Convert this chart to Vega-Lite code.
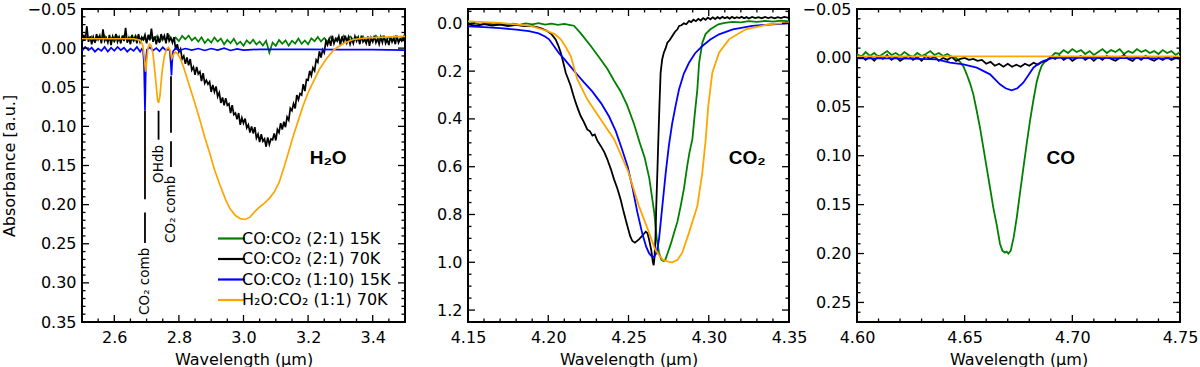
{
"$schema": "https://vega.github.io/schema/vega-lite/v6.json",
"padding": {"left": 0, "right": 2, "top": 0, "bottom": 0},
"spacing": 25,
"config": {
  "font": "DejaVu Sans",
  "view": {"stroke": "black", "strokeWidth": 2},
  "axis": {"domain": false, "grid": false, "ticks": false, "tickSize": 0, "labelFont": "DejaVu Sans", "labelFontSize": 16, "labelColor": "black", "titleFont": "DejaVu Sans", "titleFontSize": 16, "titleFontWeight": "normal", "titleColor": "black", "labelFlush": false}
},
"resolve": {"scale": {"color": "independent"}},
"datasets": {
"xt1": [{"t":2.6,"k":"M"},{"t":2.8,"k":"M"},{"t":3.0,"k":"M"},{"t":3.2,"k":"M"},{"t":3.4,"k":"M"},{"t":2.55,"k":"m"},{"t":2.65,"k":"m"},{"t":2.7,"k":"m"},{"t":2.75,"k":"m"},{"t":2.85,"k":"m"},{"t":2.9,"k":"m"},{"t":2.95,"k":"m"},{"t":3.05,"k":"m"},{"t":3.1,"k":"m"},{"t":3.15,"k":"m"},{"t":3.25,"k":"m"},{"t":3.3,"k":"m"},{"t":3.35,"k":"m"},{"t":3.45,"k":"m"}],
"yt1": [{"t":0,"k":"M"},{"t":0.05,"k":"M"},{"t":0.1,"k":"M"},{"t":0.15,"k":"M"},{"t":0.2,"k":"M"},{"t":0.25,"k":"M"},{"t":0.3,"k":"M"},
{"t":-0.04,"k":"m"},{"t":-0.03,"k":"m"},{"t":-0.02,"k":"m"},{"t":-0.01,"k":"m"},{"t":0.01,"k":"m"},{"t":0.02,"k":"m"},{"t":0.03,"k":"m"},{"t":0.04,"k":"m"},{"t":0.06,"k":"m"},{"t":0.07,"k":"m"},{"t":0.08,"k":"m"},{"t":0.09,"k":"m"},{"t":0.11,"k":"m"},{"t":0.12,"k":"m"},{"t":0.13,"k":"m"},{"t":0.14,"k":"m"},{"t":0.16,"k":"m"},{"t":0.17,"k":"m"},{"t":0.18,"k":"m"},{"t":0.19,"k":"m"},{"t":0.21,"k":"m"},{"t":0.22,"k":"m"},{"t":0.23,"k":"m"},{"t":0.24,"k":"m"},{"t":0.26,"k":"m"},{"t":0.27,"k":"m"},{"t":0.28,"k":"m"},{"t":0.29,"k":"m"},{"t":0.31,"k":"m"},{"t":0.32,"k":"m"},{"t":0.33,"k":"m"},{"t":0.34,"k":"m"}],
"xt2": [{"t":4.2,"k":"M"},{"t":4.25,"k":"M"},{"t":4.3,"k":"M"},{"t":4.16,"k":"m"},{"t":4.17,"k":"m"},{"t":4.18,"k":"m"},{"t":4.19,"k":"m"},{"t":4.21,"k":"m"},{"t":4.22,"k":"m"},{"t":4.23,"k":"m"},{"t":4.24,"k":"m"},{"t":4.26,"k":"m"},{"t":4.27,"k":"m"},{"t":4.28,"k":"m"},{"t":4.29,"k":"m"},{"t":4.31,"k":"m"},{"t":4.32,"k":"m"},{"t":4.33,"k":"m"},{"t":4.34,"k":"m"}],
"yt2": [{"t":0,"k":"M"},{"t":0.2,"k":"M"},{"t":0.4,"k":"M"},{"t":0.6,"k":"M"},{"t":0.8,"k":"M"},{"t":1.0,"k":"M"},{"t":1.2,"k":"M"},
{"t":-0.05,"k":"m"},{"t":0.05,"k":"m"},{"t":0.1,"k":"m"},{"t":0.15,"k":"m"},{"t":0.25,"k":"m"},{"t":0.3,"k":"m"},{"t":0.35,"k":"m"},{"t":0.45,"k":"m"},{"t":0.5,"k":"m"},{"t":0.55,"k":"m"},{"t":0.65,"k":"m"},{"t":0.7,"k":"m"},{"t":0.75,"k":"m"},{"t":0.85,"k":"m"},{"t":0.9,"k":"m"},{"t":0.95,"k":"m"},{"t":1.05,"k":"m"},{"t":1.1,"k":"m"},{"t":1.15,"k":"m"},{"t":1.25,"k":"m"}],
"xt3": [{"t":4.65,"k":"M"},{"t":4.7,"k":"M"},{"t":4.61,"k":"m"},{"t":4.62,"k":"m"},{"t":4.63,"k":"m"},{"t":4.64,"k":"m"},{"t":4.66,"k":"m"},{"t":4.67,"k":"m"},{"t":4.68,"k":"m"},{"t":4.69,"k":"m"},{"t":4.71,"k":"m"},{"t":4.72,"k":"m"},{"t":4.73,"k":"m"},{"t":4.74,"k":"m"}],
"yt3": [{"t":0,"k":"M"},{"t":0.05,"k":"M"},{"t":0.1,"k":"M"},{"t":0.15,"k":"M"},{"t":0.2,"k":"M"},{"t":0.25,"k":"M"},
{"t":-0.04,"k":"m"},{"t":-0.03,"k":"m"},{"t":-0.02,"k":"m"},{"t":-0.01,"k":"m"},{"t":0.01,"k":"m"},{"t":0.02,"k":"m"},{"t":0.03,"k":"m"},{"t":0.04,"k":"m"},{"t":0.06,"k":"m"},{"t":0.07,"k":"m"},{"t":0.08,"k":"m"},{"t":0.09,"k":"m"},{"t":0.11,"k":"m"},{"t":0.12,"k":"m"},{"t":0.13,"k":"m"},{"t":0.14,"k":"m"},{"t":0.16,"k":"m"},{"t":0.17,"k":"m"},{"t":0.18,"k":"m"},{"t":0.19,"k":"m"},{"t":0.21,"k":"m"},{"t":0.22,"k":"m"},{"t":0.23,"k":"m"},{"t":0.24,"k":"m"},{"t":0.26,"k":"m"}],
"p1": [
{"s":"g","x":2.5,"y":-0.009},{"s":"g","x":2.51,"y":-0.016},{"s":"g","x":2.52,"y":-0.011},{"s":"g","x":2.53,"y":-0.015},{"s":"g","x":2.54,"y":-0.008},{"s":"g","x":2.55,"y":-0.014},{"s":"g","x":2.56,"y":-0.010},{"s":"g","x":2.57,"y":-0.016},{"s":"g","x":2.58,"y":-0.009},{"s":"g","x":2.59,"y":-0.013},
{"s":"g","x":2.6,"y":-0.008},{"s":"g","x":2.61,"y":-0.015},{"s":"g","x":2.62,"y":-0.011},{"s":"g","x":2.63,"y":-0.016},{"s":"g","x":2.64,"y":-0.010},{"s":"g","x":2.65,"y":-0.014},{"s":"g","x":2.66,"y":-0.009},{"s":"g","x":2.67,"y":-0.015},{"s":"g","x":2.68,"y":-0.008},{"s":"g","x":2.69,"y":-0.013},
{"s":"g","x":2.7,"y":-0.009},{"s":"g","x":2.71,"y":-0.016},{"s":"g","x":2.72,"y":-0.011},{"s":"g","x":2.73,"y":-0.015},{"s":"g","x":2.74,"y":-0.008},{"s":"g","x":2.75,"y":-0.014},{"s":"g","x":2.76,"y":-0.010},{"s":"g","x":2.77,"y":-0.016},{"s":"g","x":2.78,"y":-0.009},{"s":"g","x":2.79,"y":-0.0135},
{"s":"g","x":2.8,"y":-0.009},{"s":"g","x":2.81,"y":-0.0157},{"s":"g","x":2.82,"y":-0.0114},{"s":"g","x":2.83,"y":-0.0161},{"s":"g","x":2.84,"y":-0.0098},{"s":"g","x":2.85,"y":-0.0135},{"s":"g","x":2.86,"y":-0.0082},{"s":"g","x":2.87,"y":-0.0139},{"s":"g","x":2.88,"y":-0.0066},{"s":"g","x":2.89,"y":-0.0113},
{"s":"g","x":2.9,"y":-0.007},{"s":"g","x":2.91,"y":-0.0137},{"s":"g","x":2.92,"y":-0.0084},{"s":"g","x":2.93,"y":-0.0121},{"s":"g","x":2.94,"y":-0.0048},{"s":"g","x":2.95,"y":-0.0105},{"s":"g","x":2.96,"y":-0.0062},{"s":"g","x":2.97,"y":-0.0119},{"s":"g","x":2.98,"y":-0.0046},{"s":"g","x":2.99,"y":-0.0083},
{"s":"g","x":3.0,"y":-0.003},{"s":"g","x":3.01,"y":-0.0099},{"s":"g","x":3.02,"y":-0.0058},{"s":"g","x":3.03,"y":-0.0107},{"s":"g","x":3.04,"y":-0.0046},{"s":"g","x":3.05,"y":-0.0085},{"s":"g","x":3.06,"y":-0.0034},{"s":"g","x":3.07,"y":-0.0093},{"s":"g","x":3.08,"y":0.006},{"s":"g","x":3.09,"y":-0.0071},
{"s":"g","x":3.1,"y":-0.003},{"s":"g","x":3.11,"y":-0.0103},{"s":"g","x":3.12,"y":-0.0056},{"s":"g","x":3.13,"y":-0.0099},{"s":"g","x":3.14,"y":-0.0032},{"s":"g","x":3.15,"y":-0.0095},{"s":"g","x":3.16,"y":-0.0058},{"s":"g","x":3.17,"y":-0.0121},{"s":"g","x":3.18,"y":-0.0054},{"s":"g","x":3.19,"y":-0.0097},
{"s":"g","x":3.2,"y":-0.005},{"s":"g","x":3.21,"y":-0.0124},{"s":"g","x":3.22,"y":-0.0088},{"s":"g","x":3.23,"y":-0.0142},{"s":"g","x":3.24,"y":-0.0086},{"s":"g","x":3.25,"y":-0.013},{"s":"g","x":3.26,"y":-0.0082},{"s":"g","x":3.27,"y":-0.0144},{"s":"g","x":3.28,"y":-0.0076},{"s":"g","x":3.29,"y":-0.0128},
{"s":"g","x":3.3,"y":-0.009},{"s":"g","x":3.31,"y":-0.016},{"s":"g","x":3.32,"y":-0.011},{"s":"g","x":3.33,"y":-0.015},{"s":"g","x":3.34,"y":-0.010},{"s":"g","x":3.35,"y":-0.014},{"s":"g","x":3.36,"y":-0.009},{"s":"g","x":3.37,"y":-0.015},{"s":"g","x":3.38,"y":-0.008},{"s":"g","x":3.39,"y":-0.013},
{"s":"g","x":3.4,"y":-0.009},{"s":"g","x":3.41,"y":-0.016},{"s":"g","x":3.42,"y":-0.011},{"s":"g","x":3.43,"y":-0.015},{"s":"g","x":3.44,"y":-0.010},{"s":"g","x":3.45,"y":-0.014},{"s":"g","x":3.46,"y":-0.009},{"s":"g","x":3.47,"y":-0.015},{"s":"g","x":3.48,"y":-0.008},{"s":"g","x":3.49,"y":-0.013},{"s":"g","x":3.5,"y":-0.009},
{"s":"k","x":2.5,"y":-0.006},{"s":"k","x":2.505,"y":-0.017},{"s":"k","x":2.51,"y":-0.010},{"s":"k","x":2.515,"y":-0.028},{"s":"k","x":2.52,"y":-0.008},{"s":"k","x":2.525,"y":-0.015},{"s":"k","x":2.53,"y":-0.005},{"s":"k","x":2.535,"y":-0.014},{"s":"k","x":2.54,"y":-0.007},{"s":"k","x":2.545,"y":-0.018},
{"s":"k","x":2.55,"y":-0.011},{"s":"k","x":2.555,"y":-0.016},{"s":"k","x":2.56,"y":-0.006},{"s":"k","x":2.565,"y":-0.024},{"s":"k","x":2.57,"y":-0.009},{"s":"k","x":2.575,"y":-0.013},{"s":"k","x":2.58,"y":-0.007},{"s":"k","x":2.585,"y":-0.017},{"s":"k","x":2.59,"y":-0.004},{"s":"k","x":2.595,"y":-0.015},
{"s":"k","x":2.6,"y":-0.010},{"s":"k","x":2.605,"y":-0.018},{"s":"k","x":2.61,"y":-0.008},{"s":"k","x":2.615,"y":-0.014},{"s":"k","x":2.62,"y":-0.006},{"s":"k","x":2.625,"y":-0.016},{"s":"k","x":2.63,"y":-0.009},{"s":"k","x":2.635,"y":-0.026},{"s":"k","x":2.64,"y":-0.007},{"s":"k","x":2.645,"y":-0.013},
{"s":"k","x":2.65,"y":-0.005},{"s":"k","x":2.655,"y":-0.017},{"s":"k","x":2.66,"y":-0.010},{"s":"k","x":2.665,"y":-0.015},{"s":"k","x":2.67,"y":-0.006},{"s":"k","x":2.675,"y":-0.018},{"s":"k","x":2.68,"y":-0.008},{"s":"k","x":2.685,"y":-0.014},{"s":"k","x":2.69,"y":-0.011},{"s":"k","x":2.695,"y":-0.017},
{"s":"k","x":2.7,"y":-0.006},{"s":"k","x":2.705,"y":-0.017},{"s":"k","x":2.71,"y":-0.010},{"s":"k","x":2.715,"y":-0.025},{"s":"k","x":2.72,"y":-0.008},{"s":"k","x":2.725,"y":-0.015},{"s":"k","x":2.73,"y":-0.005},{"s":"k","x":2.735,"y":-0.014},{"s":"k","x":2.74,"y":-0.007},{"s":"k","x":2.745,"y":-0.018},
{"s":"k","x":2.75,"y":-0.011},{"s":"k","x":2.755,"y":-0.016},{"s":"k","x":2.76,"y":-0.006},{"s":"k","x":2.765,"y":-0.019},{"s":"k","x":2.77,"y":-0.009},{"s":"k","x":2.775,"y":-0.013},{"s":"k","x":2.78,"y":-0.007},{"s":"k","x":2.785,"y":-0.014},{"s":"k","x":2.79,"y":0.002},{"s":"k","x":2.795,"y":-0.005},
{"s":"k","x":2.8,"y":0.005},{"s":"k","x":2.805,"y":0.001},{"s":"k","x":2.81,"y":0.014},{"s":"k","x":2.815,"y":0.010},{"s":"k","x":2.82,"y":0.020},{"s":"k","x":2.825,"y":0.012},{"s":"k","x":2.83,"y":0.022},{"s":"k","x":2.835,"y":0.014},{"s":"k","x":2.84,"y":0.028},{"s":"k","x":2.845,"y":0.024},
{"s":"k","x":2.85,"y":0.034},{"s":"k","x":2.855,"y":0.024},{"s":"k","x":2.86,"y":0.033},{"s":"k","x":2.865,"y":0.030},{"s":"k","x":2.87,"y":0.042},{"s":"k","x":2.875,"y":0.032},{"s":"k","x":2.88,"y":0.045},{"s":"k","x":2.885,"y":0.041},{"s":"k","x":2.89,"y":0.046},{"s":"k","x":2.895,"y":0.043},
{"s":"k","x":2.9,"y":0.056},{"s":"k","x":2.905,"y":0.047},{"s":"k","x":2.91,"y":0.056},{"s":"k","x":2.915,"y":0.049},{"s":"k","x":2.92,"y":0.062},{"s":"k","x":2.925,"y":0.057},{"s":"k","x":2.93,"y":0.070},{"s":"k","x":2.935,"y":0.063},{"s":"k","x":2.94,"y":0.073},{"s":"k","x":2.945,"y":0.064},
{"s":"k","x":2.95,"y":0.073},{"s":"k","x":2.955,"y":0.071},{"s":"k","x":2.96,"y":0.083},{"s":"k","x":2.965,"y":0.073},{"s":"k","x":2.97,"y":0.085},{"s":"k","x":2.975,"y":0.083},{"s":"k","x":2.98,"y":0.091},{"s":"k","x":2.985,"y":0.083},{"s":"k","x":2.99,"y":0.098},{"s":"k","x":2.995,"y":0.089},
{"s":"k","x":3.0,"y":0.096},{"s":"k","x":3.005,"y":0.090},{"s":"k","x":3.01,"y":0.102},{"s":"k","x":3.015,"y":0.098},{"s":"k","x":3.02,"y":0.108},{"s":"k","x":3.025,"y":0.100},{"s":"k","x":3.03,"y":0.109},{"s":"k","x":3.035,"y":0.101},{"s":"k","x":3.04,"y":0.115},{"s":"k","x":3.045,"y":0.110},
{"s":"k","x":3.05,"y":0.120},{"s":"k","x":3.055,"y":0.110},{"s":"k","x":3.06,"y":0.119},{"s":"k","x":3.065,"y":0.116},{"s":"k","x":3.07,"y":0.126},{"s":"k","x":3.075,"y":0.114},{"s":"k","x":3.08,"y":0.123},{"s":"k","x":3.085,"y":0.116},{"s":"k","x":3.09,"y":0.117},{"s":"k","x":3.095,"y":0.109},
{"s":"k","x":3.1,"y":0.118},{"s":"k","x":3.105,"y":0.104},{"s":"k","x":3.11,"y":0.108},{"s":"k","x":3.115,"y":0.096},{"s":"k","x":3.12,"y":0.104},{"s":"k","x":3.125,"y":0.094},{"s":"k","x":3.13,"y":0.101},{"s":"k","x":3.135,"y":0.088},{"s":"k","x":3.14,"y":0.092},{"s":"k","x":3.145,"y":0.077},
{"s":"k","x":3.15,"y":0.080},{"s":"k","x":3.155,"y":0.071},{"s":"k","x":3.16,"y":0.077},{"s":"k","x":3.165,"y":0.060},{"s":"k","x":3.17,"y":0.066},{"s":"k","x":3.175,"y":0.058},{"s":"k","x":3.18,"y":0.060},{"s":"k","x":3.185,"y":0.046},{"s":"k","x":3.19,"y":0.055},{"s":"k","x":3.195,"y":0.040},
{"s":"k","x":3.2,"y":0.041},{"s":"k","x":3.205,"y":0.029},{"s":"k","x":3.21,"y":0.035},{"s":"k","x":3.215,"y":0.025},{"s":"k","x":3.22,"y":0.029},{"s":"k","x":3.225,"y":0.015},{"s":"k","x":3.23,"y":0.018},{"s":"k","x":3.235,"y":0.004},{"s":"k","x":3.24,"y":0.012},{"s":"k","x":3.245,"y":0.002},
{"s":"k","x":3.25,"y":0.006},{"s":"k","x":3.255,"y":-0.009},{"s":"k","x":3.26,"y":-0.004},{"s":"k","x":3.265,"y":-0.011},{"s":"k","x":3.27,"y":-0.003},{"s":"k","x":3.275,"y":-0.016},{"s":"k","x":3.28,"y":-0.006},{"s":"k","x":3.285,"y":-0.012},{"s":"k","x":3.29,"y":-0.009},{"s":"k","x":3.295,"y":-0.015},
{"s":"k","x":3.3,"y":-0.004},{"s":"k","x":3.305,"y":-0.015},{"s":"k","x":3.31,"y":-0.008},{"s":"k","x":3.315,"y":-0.016},{"s":"k","x":3.32,"y":-0.007},{"s":"k","x":3.325,"y":-0.014},{"s":"k","x":3.33,"y":-0.005},{"s":"k","x":3.335,"y":-0.012},{"s":"k","x":3.34,"y":-0.006},{"s":"k","x":3.345,"y":-0.015},
{"s":"k","x":3.35,"y":-0.009},{"s":"k","x":3.355,"y":-0.014},{"s":"k","x":3.36,"y":-0.005},{"s":"k","x":3.365,"y":-0.016},{"s":"k","x":3.37,"y":-0.008},{"s":"k","x":3.375,"y":-0.011},{"s":"k","x":3.38,"y":-0.006},{"s":"k","x":3.385,"y":-0.015},{"s":"k","x":3.39,"y":-0.003},{"s":"k","x":3.395,"y":-0.013},
{"s":"k","x":3.4,"y":-0.008},{"s":"k","x":3.405,"y":-0.016},{"s":"k","x":3.41,"y":-0.007},{"s":"k","x":3.415,"y":-0.012},{"s":"k","x":3.42,"y":-0.005},{"s":"k","x":3.425,"y":-0.014},{"s":"k","x":3.43,"y":-0.007},{"s":"k","x":3.435,"y":-0.016},{"s":"k","x":3.44,"y":-0.006},{"s":"k","x":3.445,"y":-0.011},
{"s":"k","x":3.45,"y":-0.004},{"s":"k","x":3.455,"y":-0.015},{"s":"k","x":3.46,"y":-0.008},{"s":"k","x":3.465,"y":-0.013},{"s":"k","x":3.47,"y":-0.005},{"s":"k","x":3.475,"y":-0.016},{"s":"k","x":3.48,"y":-0.007},{"s":"k","x":3.485,"y":-0.012},{"s":"k","x":3.49,"y":-0.009},{"s":"k","x":3.495,"y":-0.014},{"s":"k","x":3.5,"y":-0.007},
{"s":"b","x":2.5,"y":0.0035},{"s":"b","x":2.51,"y":-0.0015},{"s":"b","x":2.52,"y":0.0025},{"s":"b","x":2.53,"y":-0.0005},{"s":"b","x":2.54,"y":0.0045},{"s":"b","x":2.55,"y":0.0005},{"s":"b","x":2.56,"y":0.0035},{"s":"b","x":2.57,"y":-0.0015},{"s":"b","x":2.58,"y":0.0045},{"s":"b","x":2.59,"y":-0.0005},
{"s":"b","x":2.6,"y":0.0035},{"s":"b","x":2.61,"y":-0.0015},{"s":"b","x":2.62,"y":0.0025},{"s":"b","x":2.63,"y":-0.0005},{"s":"b","x":2.64,"y":0.0045},{"s":"b","x":2.65,"y":0.0005},{"s":"b","x":2.66,"y":0.0035},{"s":"b","x":2.67,"y":-0.0015},{"s":"b","x":2.68,"y":0.0045},{"s":"b","x":2.685,"y":0.001},
{"s":"b","x":2.689,"y":0.003},{"s":"b","x":2.692,"y":0.02},{"s":"b","x":2.694,"y":0.06},{"s":"b","x":2.695,"y":0.08},{"s":"b","x":2.696,"y":0.06},{"s":"b","x":2.698,"y":0.015},{"s":"b","x":2.701,"y":0.002},{"s":"b","x":2.71,"y":-0.001},{"s":"b","x":2.72,"y":0.003},{"s":"b","x":2.73,"y":0.0},
{"s":"b","x":2.74,"y":0.004},{"s":"b","x":2.75,"y":-0.001},{"s":"b","x":2.76,"y":0.003},{"s":"b","x":2.768,"y":0.001},{"s":"b","x":2.772,"y":0.004},{"s":"b","x":2.775,"y":0.02},{"s":"b","x":2.777,"y":0.035},{"s":"b","x":2.779,"y":0.018},{"s":"b","x":2.782,"y":0.004},{"s":"b","x":2.79,"y":0.0},
{"s":"b","x":2.8,"y":0.003},{"s":"b","x":2.82,"y":0.0005},{"s":"b","x":2.84,"y":0.0025},{"s":"b","x":2.86,"y":0.0005},{"s":"b","x":2.88,"y":0.003},{"s":"b","x":2.9,"y":0.0005},{"s":"b","x":2.92,"y":0.0025},{"s":"b","x":2.94,"y":0.0},{"s":"b","x":2.96,"y":0.003},{"s":"b","x":2.98,"y":0.001},
{"s":"b","x":3.0,"y":0.0025},{"s":"b","x":3.05,"y":0.0015},{"s":"b","x":3.1,"y":0.0015},{"s":"b","x":3.2,"y":0.0015},{"s":"b","x":3.3,"y":0.002},{"s":"b","x":3.4,"y":0.002},{"s":"b","x":3.5,"y":0.0025},
{"s":"o","x":2.5,"y":-0.012},{"s":"o","x":2.6,"y":-0.012},{"s":"o","x":2.66,"y":-0.012},{"s":"o","x":2.68,"y":-0.010},{"s":"o","x":2.688,"y":-0.004},{"s":"o","x":2.693,"y":0.012},{"s":"o","x":2.697,"y":0.030},{"s":"o","x":2.7,"y":0.018},{"s":"o","x":2.704,"y":0.0},{"s":"o","x":2.709,"y":-0.005},
{"s":"o","x":2.714,"y":-0.003},{"s":"o","x":2.72,"y":0.008},{"s":"o","x":2.728,"y":0.040},{"s":"o","x":2.734,"y":0.066},{"s":"o","x":2.737,"y":0.070},{"s":"o","x":2.741,"y":0.062},{"s":"o","x":2.748,"y":0.030},{"s":"o","x":2.755,"y":0.010},{"s":"o","x":2.762,"y":0.001},{"s":"o","x":2.768,"y":-0.001},
{"s":"o","x":2.773,"y":0.003},{"s":"o","x":2.778,"y":0.013},{"s":"o","x":2.783,"y":0.008},{"s":"o","x":2.789,"y":0.005},{"s":"o","x":2.795,"y":0.007},{"s":"o","x":2.803,"y":0.012},{"s":"o","x":2.815,"y":0.025},{"s":"o","x":2.834,"y":0.05},{"s":"o","x":2.85,"y":0.071},{"s":"o","x":2.865,"y":0.092},
{"s":"o","x":2.88,"y":0.114},{"s":"o","x":2.896,"y":0.135},{"s":"o","x":2.91,"y":0.155},{"s":"o","x":2.927,"y":0.175},{"s":"o","x":2.945,"y":0.194},{"s":"o","x":2.958,"y":0.205},{"s":"o","x":2.975,"y":0.214},{"s":"o","x":2.99,"y":0.218},{"s":"o","x":3.005,"y":0.219},{"s":"o","x":3.02,"y":0.216},
{"s":"o","x":3.035,"y":0.209},{"s":"o","x":3.05,"y":0.203},{"s":"o","x":3.065,"y":0.198},{"s":"o","x":3.08,"y":0.192},{"s":"o","x":3.095,"y":0.184},{"s":"o","x":3.11,"y":0.172},{"s":"o","x":3.125,"y":0.153},{"s":"o","x":3.14,"y":0.132},{"s":"o","x":3.155,"y":0.111},{"s":"o","x":3.17,"y":0.092},
{"s":"o","x":3.185,"y":0.073},{"s":"o","x":3.2,"y":0.057},{"s":"o","x":3.216,"y":0.043},{"s":"o","x":3.235,"y":0.027},{"s":"o","x":3.258,"y":0.013},{"s":"o","x":3.28,"y":0.002},{"s":"o","x":3.309,"y":-0.006},{"s":"o","x":3.34,"y":-0.011},{"s":"o","x":3.38,"y":-0.013},{"s":"o","x":3.44,"y":-0.014},{"s":"o","x":3.5,"y":-0.015}
],
"p2": [
{"s":"g","x":4.15,"y":0.004},{"s":"g","x":4.154,"y":-0.001},{"s":"g","x":4.158,"y":0.005},{"s":"g","x":4.162,"y":0.0},{"s":"g","x":4.166,"y":0.004},{"s":"g","x":4.17,"y":-0.001},{"s":"g","x":4.174,"y":0.005},{"s":"g","x":4.178,"y":0.001},{"s":"g","x":4.182,"y":0.006},{"s":"g","x":4.186,"y":0.0},
{"s":"g","x":4.19,"y":0.004},{"s":"g","x":4.194,"y":-0.001},{"s":"g","x":4.198,"y":0.005},{"s":"g","x":4.202,"y":0.001},{"s":"g","x":4.206,"y":0.006},{"s":"g","x":4.21,"y":0.002},{"s":"g","x":4.213,"y":0.006},{"s":"g","x":4.216,"y":0.01},{"s":"g","x":4.22,"y":0.04},{"s":"g","x":4.2265,"y":0.095},
{"s":"g","x":4.232,"y":0.145},{"s":"g","x":4.2368,"y":0.19},{"s":"g","x":4.241,"y":0.24},{"s":"g","x":4.2451,"y":0.285},{"s":"g","x":4.249,"y":0.34},{"s":"g","x":4.2534,"y":0.42},{"s":"g","x":4.257,"y":0.5},{"s":"g","x":4.26,"y":0.56},{"s":"g","x":4.263,"y":0.65},{"s":"g","x":4.266,"y":0.79},
{"s":"g","x":4.2676,"y":0.9},{"s":"g","x":4.269,"y":0.96},{"s":"g","x":4.2705,"y":0.99},{"s":"g","x":4.272,"y":0.995},{"s":"g","x":4.273,"y":0.988},{"s":"g","x":4.2745,"y":0.96},{"s":"g","x":4.2765,"y":0.92},{"s":"g","x":4.2784,"y":0.876},{"s":"g","x":4.2805,"y":0.83},{"s":"g","x":4.2825,"y":0.765},
{"s":"g","x":4.2846,"y":0.69},{"s":"g","x":4.2866,"y":0.597},{"s":"g","x":4.288,"y":0.54},{"s":"g","x":4.2898,"y":0.485},{"s":"g","x":4.291,"y":0.4},{"s":"g","x":4.2929,"y":0.276},{"s":"g","x":4.294,"y":0.165},{"s":"g","x":4.296,"y":0.081},{"s":"g","x":4.298,"y":0.045},{"s":"g","x":4.301,"y":0.025},
{"s":"g","x":4.306,"y":0.004},{"s":"g","x":4.31,"y":-0.002},{"s":"g","x":4.315,"y":-0.006},{"s":"g","x":4.32,"y":-0.004},{"s":"g","x":4.325,"y":-0.009},{"s":"g","x":4.33,"y":-0.006},{"s":"g","x":4.335,"y":-0.01},{"s":"g","x":4.34,"y":-0.007},{"s":"g","x":4.345,"y":-0.011},{"s":"g","x":4.35,"y":-0.008},
{"s":"k","x":4.15,"y":0.004},{"s":"k","x":4.155,"y":0.010},{"s":"k","x":4.16,"y":0.003},{"s":"k","x":4.165,"y":0.009},{"s":"k","x":4.17,"y":0.005},{"s":"k","x":4.175,"y":0.011},{"s":"k","x":4.18,"y":0.006},{"s":"k","x":4.185,"y":0.012},{"s":"k","x":4.189,"y":0.011},{"s":"k","x":4.193,"y":0.016},
{"s":"k","x":4.196,"y":0.022},{"s":"k","x":4.1994,"y":0.032},{"s":"k","x":4.202,"y":0.045},{"s":"k","x":4.2046,"y":0.067},{"s":"k","x":4.2062,"y":0.092},{"s":"k","x":4.2078,"y":0.123},{"s":"k","x":4.2094,"y":0.165},{"s":"k","x":4.2109,"y":0.207},{"s":"k","x":4.2125,"y":0.235},{"s":"k","x":4.214,"y":0.262},
{"s":"k","x":4.2155,"y":0.298},{"s":"k","x":4.2171,"y":0.332},{"s":"k","x":4.2186,"y":0.36},{"s":"k","x":4.2202,"y":0.388},{"s":"k","x":4.222,"y":0.41},{"s":"k","x":4.2243,"y":0.444},{"s":"k","x":4.226,"y":0.452},{"s":"k","x":4.2275,"y":0.47},{"s":"k","x":4.229,"y":0.465},{"s":"k","x":4.2305,"y":0.49},
{"s":"k","x":4.2327,"y":0.513},{"s":"k","x":4.235,"y":0.54},{"s":"k","x":4.2368,"y":0.569},{"s":"k","x":4.239,"y":0.61},{"s":"k","x":4.241,"y":0.653},{"s":"k","x":4.243,"y":0.69},{"s":"k","x":4.2451,"y":0.737},{"s":"k","x":4.247,"y":0.79},{"s":"k","x":4.2493,"y":0.848},{"s":"k","x":4.251,"y":0.89},
{"s":"k","x":4.2524,"y":0.911},{"s":"k","x":4.254,"y":0.918},{"s":"k","x":4.2565,"y":0.904},{"s":"k","x":4.2585,"y":0.89},{"s":"k","x":4.2607,"y":0.872},{"s":"k","x":4.2618,"y":0.878},{"s":"k","x":4.2628,"y":0.904},{"s":"k","x":4.2642,"y":0.95},{"s":"k","x":4.2652,"y":1.0},{"s":"k","x":4.2657,"y":1.012},
{"s":"k","x":4.2662,"y":0.98},{"s":"k","x":4.2668,"y":0.9},{"s":"k","x":4.2673,"y":0.765},{"s":"k","x":4.268,"y":0.62},{"s":"k","x":4.2686,"y":0.485},{"s":"k","x":4.2693,"y":0.34},{"s":"k","x":4.27,"y":0.207},{"s":"k","x":4.271,"y":0.15},{"s":"k","x":4.272,"y":0.123},{"s":"k","x":4.2731,"y":0.105},
{"s":"k","x":4.2742,"y":0.081},{"s":"k","x":4.2757,"y":0.07},{"s":"k","x":4.2773,"y":0.053},{"s":"k","x":4.279,"y":0.035},{"s":"k","x":4.2805,"y":0.025},{"s":"k","x":4.2815,"y":0.011},{"s":"k","x":4.283,"y":0.008},{"s":"k","x":4.2845,"y":0.0},{"s":"k","x":4.286,"y":0.004},{"s":"k","x":4.2877,"y":-0.01},
{"s":"k","x":4.289,"y":-0.005},{"s":"k","x":4.2905,"y":-0.015},{"s":"k","x":4.292,"y":-0.009},{"s":"k","x":4.2935,"y":-0.019},{"s":"k","x":4.295,"y":-0.012},{"s":"k","x":4.2965,"y":-0.022},{"s":"k","x":4.298,"y":-0.015},{"s":"k","x":4.2995,"y":-0.024},{"s":"k","x":4.301,"y":-0.017},{"s":"k","x":4.3025,"y":-0.025},
{"s":"k","x":4.304,"y":-0.018},{"s":"k","x":4.3055,"y":-0.026},{"s":"k","x":4.307,"y":-0.02},{"s":"k","x":4.3085,"y":-0.027},{"s":"k","x":4.31,"y":-0.021},{"s":"k","x":4.3115,"y":-0.026},{"s":"k","x":4.313,"y":-0.02},{"s":"k","x":4.3145,"y":-0.027},{"s":"k","x":4.316,"y":-0.021},{"s":"k","x":4.3175,"y":-0.026},
{"s":"k","x":4.319,"y":-0.022},{"s":"k","x":4.3205,"y":-0.027},{"s":"k","x":4.322,"y":-0.021},{"s":"k","x":4.3235,"y":-0.026},{"s":"k","x":4.325,"y":-0.02},{"s":"k","x":4.327,"y":-0.027},{"s":"k","x":4.329,"y":-0.022},{"s":"k","x":4.331,"y":-0.026},{"s":"k","x":4.333,"y":-0.021},{"s":"k","x":4.335,"y":-0.027},
{"s":"k","x":4.337,"y":-0.022},{"s":"k","x":4.339,"y":-0.026},{"s":"k","x":4.341,"y":-0.021},{"s":"k","x":4.343,"y":-0.026},{"s":"k","x":4.345,"y":-0.022},{"s":"k","x":4.347,"y":-0.027},{"s":"k","x":4.35,"y":-0.023},
{"s":"b","x":4.15,"y":0.013},{"s":"b","x":4.16,"y":0.016},{"s":"b","x":4.17,"y":0.020},{"s":"b","x":4.18,"y":0.026},{"s":"b","x":4.188,"y":0.033},{"s":"b","x":4.194,"y":0.042},{"s":"b","x":4.198,"y":0.055},{"s":"b","x":4.2005,"y":0.067},{"s":"b","x":4.2035,"y":0.095},{"s":"b","x":4.2067,"y":0.125},
{"s":"b","x":4.21,"y":0.15},{"s":"b","x":4.2135,"y":0.178},{"s":"b","x":4.2171,"y":0.207},{"s":"b","x":4.222,"y":0.245},{"s":"b","x":4.2274,"y":0.285},{"s":"b","x":4.233,"y":0.335},{"s":"b","x":4.2379,"y":0.39},{"s":"b","x":4.242,"y":0.45},{"s":"b","x":4.2461,"y":0.53},{"s":"b","x":4.2495,"y":0.6},
{"s":"b","x":4.2524,"y":0.685},{"s":"b","x":4.2555,"y":0.79},{"s":"b","x":4.2586,"y":0.88},{"s":"b","x":4.261,"y":0.935},{"s":"b","x":4.2628,"y":0.962},{"s":"b","x":4.2645,"y":0.976},{"s":"b","x":4.2659,"y":0.978},{"s":"b","x":4.2675,"y":0.96},{"s":"b","x":4.269,"y":0.904},{"s":"b","x":4.271,"y":0.77},
{"s":"b","x":4.2732,"y":0.625},{"s":"b","x":4.2752,"y":0.51},{"s":"b","x":4.2773,"y":0.416},{"s":"b","x":4.2795,"y":0.34},{"s":"b","x":4.2815,"y":0.276},{"s":"b","x":4.2845,"y":0.21},{"s":"b","x":4.2877,"y":0.165},{"s":"b","x":4.2915,"y":0.125},{"s":"b","x":4.296,"y":0.095},{"s":"b","x":4.301,"y":0.068},
{"s":"b","x":4.3064,"y":0.046},{"s":"b","x":4.315,"y":0.025},{"s":"b","x":4.3271,"y":0.011},{"s":"b","x":4.34,"y":0.004},{"s":"b","x":4.35,"y":0.0},
{"s":"o","x":4.15,"y":-0.008},{"s":"o","x":4.17,"y":-0.002},{"s":"o","x":4.189,"y":0.011},{"s":"o","x":4.1994,"y":0.032},{"s":"o","x":4.204,"y":0.045},{"s":"o","x":4.2078,"y":0.067},{"s":"o","x":4.211,"y":0.1},{"s":"o","x":4.214,"y":0.137},{"s":"o","x":4.2181,"y":0.234},{"s":"o","x":4.2243,"y":0.318},
{"s":"o","x":4.2327,"y":0.402},{"s":"o","x":4.241,"y":0.485},{"s":"o","x":4.2498,"y":0.62},{"s":"o","x":4.2565,"y":0.765},{"s":"o","x":4.2628,"y":0.876},{"s":"o","x":4.2665,"y":0.945},{"s":"o","x":4.269,"y":0.97},{"s":"o","x":4.2715,"y":0.99},{"s":"o","x":4.2752,"y":0.998},{"s":"o","x":4.2773,"y":1.0},
{"s":"o","x":4.2805,"y":0.99},{"s":"o","x":4.2835,"y":0.96},{"s":"o","x":4.2877,"y":0.876},{"s":"o","x":4.2929,"y":0.765},{"s":"o","x":4.296,"y":0.625},{"s":"o","x":4.2981,"y":0.485},{"s":"o","x":4.2997,"y":0.346},{"s":"o","x":4.3022,"y":0.207},{"s":"o","x":4.3064,"y":0.123},{"s":"o","x":4.3126,"y":0.067},
{"s":"o","x":4.323,"y":0.025},{"s":"o","x":4.3375,"y":0.004},{"s":"o","x":4.35,"y":-0.003}
],
"p3": [
{"s":"g","x":4.6,"y":-0.004},{"s":"g","x":4.602,"y":-0.001},{"s":"g","x":4.604,"y":-0.006},{"s":"g","x":4.606,"y":-0.002},{"s":"g","x":4.608,"y":-0.005},{"s":"g","x":4.61,"y":-0.001},{"s":"g","x":4.612,"y":-0.004},{"s":"g","x":4.614,"y":-0.007},{"s":"g","x":4.616,"y":-0.003},{"s":"g","x":4.618,"y":-0.005},
{"s":"g","x":4.62,"y":-0.002},{"s":"g","x":4.622,"y":-0.006},{"s":"g","x":4.624,"y":-0.003},{"s":"g","x":4.626,"y":-0.001},{"s":"g","x":4.628,"y":-0.005},{"s":"g","x":4.63,"y":-0.002},{"s":"g","x":4.632,"y":-0.004},{"s":"g","x":4.634,"y":-0.007},{"s":"g","x":4.636,"y":-0.003},{"s":"g","x":4.638,"y":-0.005},
{"s":"g","x":4.64,"y":-0.002},{"s":"g","x":4.642,"y":-0.004},{"s":"g","x":4.644,"y":-0.001},{"s":"g","x":4.646,"y":0.0},{"s":"g","x":4.6478,"y":0.004},{"s":"g","x":4.6495,"y":0.009},{"s":"g","x":4.651,"y":0.017},{"s":"g","x":4.6525,"y":0.026},{"s":"g","x":4.654,"y":0.037},{"s":"g","x":4.6555,"y":0.053},
{"s":"g","x":4.6571,"y":0.071},{"s":"g","x":4.6587,"y":0.092},{"s":"g","x":4.6602,"y":0.112},{"s":"g","x":4.6618,"y":0.133},{"s":"g","x":4.6633,"y":0.153},{"s":"g","x":4.665,"y":0.172},{"s":"g","x":4.6664,"y":0.19},{"s":"g","x":4.6675,"y":0.197},{"s":"g","x":4.6687,"y":0.199},{"s":"g","x":4.6695,"y":0.198},
{"s":"g","x":4.6703,"y":0.2},{"s":"g","x":4.6714,"y":0.197},{"s":"g","x":4.6728,"y":0.183},{"s":"g","x":4.6742,"y":0.163},{"s":"g","x":4.6757,"y":0.138},{"s":"g","x":4.6773,"y":0.112},{"s":"g","x":4.6788,"y":0.088},{"s":"g","x":4.6803,"y":0.065},{"s":"g","x":4.682,"y":0.042},{"s":"g","x":4.6835,"y":0.024},
{"s":"g","x":4.6848,"y":0.014},{"s":"g","x":4.6858,"y":0.008},{"s":"g","x":4.6875,"y":0.003},{"s":"g","x":4.6896,"y":0.0},{"s":"g","x":4.692,"y":-0.005},{"s":"g","x":4.694,"y":-0.004},{"s":"g","x":4.696,"y":-0.008},{"s":"g","x":4.698,"y":-0.005},{"s":"g","x":4.7,"y":-0.009},{"s":"g","x":4.702,"y":-0.006},
{"s":"g","x":4.704,"y":-0.008},{"s":"g","x":4.706,"y":-0.004},{"s":"g","x":4.708,"y":-0.007},{"s":"g","x":4.71,"y":-0.003},{"s":"g","x":4.712,"y":-0.006},{"s":"g","x":4.714,"y":-0.009},{"s":"g","x":4.716,"y":-0.005},{"s":"g","x":4.718,"y":-0.008},{"s":"g","x":4.72,"y":-0.006},{"s":"g","x":4.722,"y":-0.009},
{"s":"g","x":4.724,"y":-0.004},{"s":"g","x":4.726,"y":-0.007},{"s":"g","x":4.728,"y":-0.005},{"s":"g","x":4.73,"y":-0.009},{"s":"g","x":4.732,"y":-0.006},{"s":"g","x":4.734,"y":-0.008},{"s":"g","x":4.736,"y":-0.005},{"s":"g","x":4.738,"y":-0.007},{"s":"g","x":4.74,"y":-0.004},{"s":"g","x":4.742,"y":-0.008},
{"s":"g","x":4.744,"y":-0.005},{"s":"g","x":4.746,"y":-0.007},{"s":"g","x":4.748,"y":-0.003},{"s":"g","x":4.75,"y":-0.006},
{"s":"k","x":4.6,"y":0.0},{"s":"k","x":4.602,"y":-0.002},{"s":"k","x":4.604,"y":0.002},{"s":"k","x":4.606,"y":-0.001},{"s":"k","x":4.608,"y":0.003},{"s":"k","x":4.61,"y":-0.002},{"s":"k","x":4.612,"y":0.001},{"s":"k","x":4.614,"y":-0.003},{"s":"k","x":4.616,"y":0.002},{"s":"k","x":4.618,"y":-0.001},
{"s":"k","x":4.62,"y":0.003},{"s":"k","x":4.622,"y":0.0},{"s":"k","x":4.624,"y":-0.002},{"s":"k","x":4.626,"y":0.002},{"s":"k","x":4.628,"y":-0.001},{"s":"k","x":4.63,"y":0.003},{"s":"k","x":4.632,"y":-0.002},{"s":"k","x":4.634,"y":0.001},{"s":"k","x":4.636,"y":-0.001},{"s":"k","x":4.638,"y":0.003},
{"s":"k","x":4.64,"y":0.0},{"s":"k","x":4.642,"y":0.002},{"s":"k","x":4.644,"y":-0.001},{"s":"k","x":4.646,"y":0.003},{"s":"k","x":4.648,"y":0.001},{"s":"k","x":4.65,"y":0.0},{"s":"k","x":4.652,"y":0.002},{"s":"k","x":4.654,"y":0.001},{"s":"k","x":4.656,"y":0.003},{"s":"k","x":4.658,"y":0.002},
{"s":"k","x":4.66,"y":0.006},{"s":"k","x":4.662,"y":0.004},{"s":"k","x":4.664,"y":0.008},{"s":"k","x":4.666,"y":0.006},{"s":"k","x":4.668,"y":0.009},{"s":"k","x":4.67,"y":0.006},{"s":"k","x":4.672,"y":0.009},{"s":"k","x":4.674,"y":0.007},{"s":"k","x":4.676,"y":0.009},{"s":"k","x":4.678,"y":0.006},
{"s":"k","x":4.68,"y":0.008},{"s":"k","x":4.682,"y":0.005},{"s":"k","x":4.684,"y":0.007},{"s":"k","x":4.686,"y":0.004},{"s":"k","x":4.688,"y":0.003},{"s":"k","x":4.69,"y":-0.001},{"s":"k","x":4.692,"y":0.001},{"s":"k","x":4.694,"y":-0.002},{"s":"k","x":4.696,"y":0.002},{"s":"k","x":4.698,"y":-0.001},
{"s":"k","x":4.7,"y":0.003},{"s":"k","x":4.702,"y":0.0},{"s":"k","x":4.704,"y":-0.002},{"s":"k","x":4.706,"y":0.002},{"s":"k","x":4.708,"y":-0.001},{"s":"k","x":4.71,"y":0.003},{"s":"k","x":4.712,"y":-0.001},{"s":"k","x":4.714,"y":0.002},{"s":"k","x":4.716,"y":-0.002},{"s":"k","x":4.718,"y":0.001},
{"s":"k","x":4.72,"y":0.003},{"s":"k","x":4.722,"y":0.0},{"s":"k","x":4.724,"y":-0.003},{"s":"k","x":4.726,"y":0.001},{"s":"k","x":4.728,"y":0.003},{"s":"k","x":4.73,"y":-0.001},{"s":"k","x":4.732,"y":0.002},{"s":"k","x":4.734,"y":-0.002},{"s":"k","x":4.736,"y":0.001},{"s":"k","x":4.738,"y":0.003},
{"s":"k","x":4.74,"y":0.0},{"s":"k","x":4.742,"y":0.002},{"s":"k","x":4.744,"y":-0.001},{"s":"k","x":4.746,"y":0.002},{"s":"k","x":4.748,"y":0.0},{"s":"k","x":4.75,"y":0.001},
{"s":"b","x":4.6,"y":0.0005},{"s":"b","x":4.62,"y":0.0005},{"s":"b","x":4.637,"y":0.0014},{"s":"b","x":4.6432,"y":0.0049},{"s":"b","x":4.6494,"y":0.0066},{"s":"b","x":4.6556,"y":0.010},{"s":"b","x":4.6618,"y":0.0168},{"s":"b","x":4.6664,"y":0.027},{"s":"b","x":4.669,"y":0.031},{"s":"b","x":4.6718,"y":0.0331},
{"s":"b","x":4.6745,"y":0.031},{"s":"b","x":4.6772,"y":0.0254},{"s":"b","x":4.6795,"y":0.018},{"s":"b","x":4.6819,"y":0.010},{"s":"b","x":4.6842,"y":0.006},{"s":"b","x":4.6865,"y":0.0032},{"s":"b","x":4.6912,"y":-0.0002},{"s":"b","x":4.7,"y":0.0},{"s":"b","x":4.75,"y":0.0005},
{"s":"o","x":4.6,"y":-0.0015},{"s":"o","x":4.75,"y":-0.0015}
]
},
"hconcat": [
{
  "width": 323, "height": 313,
  "resolve": {"axis": {"x": "independent", "y": "independent"}},
  "layer": [
    {
      "data": {"name": "p1"},
      "mark": {"type": "line", "strokeWidth": 1.7},
      "encoding": {
        "x": {"field": "x", "type": "quantitative", "scale": {"domain": [2.5, 3.5], "nice": false, "zero": false},
              "axis": {"orient": "bottom", "values": [2.6, 2.8, 3.0, 3.2, 3.4], "format": ".1f", "labelPadding": 7, "title": "Wavelength (μm)", "titlePadding": 6, "titleFontSize": 16}},
        "y": {"field": "y", "type": "quantitative", "scale": {"domain": [-0.05, 0.35], "reverse": true, "nice": false, "zero": false},
              "axis": {"orient": "left", "values": [-0.05, 0, 0.05, 0.1, 0.15, 0.2, 0.25, 0.3, 0.35], "format": ".2f", "labelPadding": 6, "title": "Absorbance [a.u.]", "titlePadding": 9, "titleFontSize": 16}},
        "color": {"field": "s", "type": "nominal", "scale": {"domain": ["g", "k", "b", "o"], "range": ["#008000", "#000000", "#0000ff", "#ffa500"]},
                  "legend": {"orient": "bottom-right", "offset": 14, "title": null, "padding": 0, "labelFont": "DejaVu Sans", "labelFontSize": 16, "labelColor": "black", "symbolType": "M-1.5,0H1.5", "symbolSize": 324, "symbolStrokeWidth": 2.2, "labelOffset": 0, "rowPadding": 1.5,
                             "labelExpr": "datum.label == 'g' ? 'CO:CO₂ (2:1) 15K' : datum.label == 'k' ? 'CO:CO₂ (2:1) 70K' : datum.label == 'b' ? 'CO:CO₂ (1:10) 15K' : 'H₂O:CO₂ (1:1) 70K'"}}
      }
    },
    {
      "data": {"name": "xt1"},
      "mark": {"type": "tick", "orient": "vertical", "thickness": 1.3, "color": "black", "opacity": 1, "clip": true},
      "encoding": {
        "x": {"field": "t", "type": "quantitative", "axis": null},
        "y": {"datum": 0.35, "type": "quantitative", "axis": null},
        "size": {"field": "k", "type": "nominal", "scale": {"domain": ["M", "m"], "range": [14, 7]}, "legend": null}
      }
    },
    {
      "data": {"name": "xt1"},
      "mark": {"type": "tick", "orient": "vertical", "thickness": 1.3, "color": "black", "opacity": 1, "clip": true},
      "encoding": {
        "x": {"field": "t", "type": "quantitative", "axis": null},
        "y": {"datum": -0.05, "type": "quantitative", "axis": null},
        "size": {"field": "k", "type": "nominal", "scale": {"domain": ["M", "m"], "range": [14, 7]}, "legend": null}
      }
    },
    {
      "data": {"name": "yt1"},
      "mark": {"type": "tick", "orient": "horizontal", "thickness": 1.3, "color": "black", "opacity": 1, "clip": true},
      "encoding": {
        "y": {"field": "t", "type": "quantitative", "axis": null},
        "x": {"datum": 2.5, "type": "quantitative", "axis": null},
        "size": {"field": "k", "type": "nominal", "scale": {"domain": ["M", "m"], "range": [14, 7]}, "legend": null}
      }
    },
    {
      "data": {"name": "yt1"},
      "mark": {"type": "tick", "orient": "horizontal", "thickness": 1.3, "color": "black", "opacity": 1, "clip": true},
      "encoding": {
        "y": {"field": "t", "type": "quantitative", "axis": null},
        "x": {"datum": 3.5, "type": "quantitative", "axis": null},
        "size": {"field": "k", "type": "nominal", "scale": {"domain": ["M", "m"], "range": [14, 7]}, "legend": null}
      }
    },
    {
      "data": {"values": [
        {"x": 2.695, "y": 0.080, "y2": 0.193},
        {"x": 2.695, "y": 0.210, "y2": 0.249},
        {"x": 2.737, "y": 0.080, "y2": 0.117},
        {"x": 2.7755, "y": 0.036, "y2": 0.108},
        {"x": 2.7755, "y": 0.119, "y2": 0.152}
      ]},
      "mark": {"type": "rule", "color": "black", "strokeWidth": 1.8},
      "encoding": {
        "x": {"field": "x", "type": "quantitative", "axis": null},
        "y": {"field": "y", "type": "quantitative", "axis": null},
        "y2": {"field": "y2"}
      }
    },
    {
      "data": {"values": [
        {"x": 2.696, "y": 0.298, "t": "CO₂ comb"},
        {"x": 2.738, "y": 0.148, "t": "OHdb"},
        {"x": 2.7765, "y": 0.206, "t": "CO₂ comb"}
      ]},
      "mark": {"type": "text", "angle": 270, "align": "center", "baseline": "middle", "font": "DejaVu Sans", "fontSize": 13.5, "color": "black"},
      "encoding": {
        "x": {"field": "x", "type": "quantitative", "axis": null},
        "y": {"field": "y", "type": "quantitative", "axis": null},
        "text": {"field": "t"}
      }
    },
    {
      "data": {"values": [{"x": 3.262, "y": 0.14, "t": "H₂O"}]},
      "mark": {"type": "text", "align": "center", "baseline": "middle", "font": "Liberation Sans", "fontWeight": "bold", "fontSize": 19, "color": "black"},
      "encoding": {
        "x": {"field": "x", "type": "quantitative", "axis": null},
        "y": {"field": "y", "type": "quantitative", "axis": null},
        "text": {"field": "t"}
      }
    }
  ]
},
{
  "spacing": -8,
  "resolve": {"scale": {"color": "independent"}},
  "hconcat": [
{
  "width": 321, "height": 313,
  "resolve": {"axis": {"x": "independent", "y": "independent"}},
  "layer": [
    {
      "data": {"name": "p2"},
      "mark": {"type": "line", "strokeWidth": 1.8},
      "encoding": {
        "x": {"field": "x", "type": "quantitative", "scale": {"domain": [4.15, 4.35], "nice": false, "zero": false},
              "axis": {"orient": "bottom", "values": [4.15, 4.2, 4.25, 4.3, 4.35], "format": ".2f", "labelPadding": 7, "title": "Wavelength (μm)", "titlePadding": 6, "titleFontSize": 16}},
        "y": {"field": "y", "type": "quantitative", "scale": {"domain": [-0.06, 1.25], "reverse": true, "nice": false, "zero": false},
              "axis": {"orient": "left", "values": [0, 0.2, 0.4, 0.6, 0.8, 1.0, 1.2], "format": ".1f", "labelPadding": 6, "title": null}},
        "color": {"field": "s", "type": "nominal", "scale": {"domain": ["g", "k", "b", "o"], "range": ["#008000", "#000000", "#0000ff", "#ffa500"]}, "legend": null}
      }
    },
    {
      "data": {"name": "xt2"},
      "mark": {"type": "tick", "orient": "vertical", "thickness": 1.3, "color": "black", "opacity": 1, "clip": true},
      "encoding": {
        "x": {"field": "t", "type": "quantitative", "axis": null},
        "y": {"datum": 1.25, "type": "quantitative", "axis": null},
        "size": {"field": "k", "type": "nominal", "scale": {"domain": ["M", "m"], "range": [14, 7]}, "legend": null}
      }
    },
    {
      "data": {"name": "xt2"},
      "mark": {"type": "tick", "orient": "vertical", "thickness": 1.3, "color": "black", "opacity": 1, "clip": true},
      "encoding": {
        "x": {"field": "t", "type": "quantitative", "axis": null},
        "y": {"datum": -0.06, "type": "quantitative", "axis": null},
        "size": {"field": "k", "type": "nominal", "scale": {"domain": ["M", "m"], "range": [14, 7]}, "legend": null}
      }
    },
    {
      "data": {"name": "yt2"},
      "mark": {"type": "tick", "orient": "horizontal", "thickness": 1.3, "color": "black", "opacity": 1, "clip": true},
      "encoding": {
        "y": {"field": "t", "type": "quantitative", "axis": null},
        "x": {"datum": 4.15, "type": "quantitative", "axis": null},
        "size": {"field": "k", "type": "nominal", "scale": {"domain": ["M", "m"], "range": [14, 7]}, "legend": null}
      }
    },
    {
      "data": {"name": "yt2"},
      "mark": {"type": "tick", "orient": "horizontal", "thickness": 1.3, "color": "black", "opacity": 1, "clip": true},
      "encoding": {
        "y": {"field": "t", "type": "quantitative", "axis": null},
        "x": {"datum": 4.35, "type": "quantitative", "axis": null},
        "size": {"field": "k", "type": "nominal", "scale": {"domain": ["M", "m"], "range": [14, 7]}, "legend": null}
      }
    },
    {
      "data": {"values": [{"x": 4.324, "y": 0.565, "t": "CO₂"}]},
      "mark": {"type": "text", "align": "center", "baseline": "middle", "font": "Liberation Sans", "fontWeight": "bold", "fontSize": 19, "color": "black"},
      "encoding": {
        "x": {"field": "x", "type": "quantitative", "axis": null},
        "y": {"field": "y", "type": "quantitative", "axis": null},
        "text": {"field": "t"}
      }
    }
  ]
},
{
  "width": 323, "height": 313,
  "resolve": {"axis": {"x": "independent", "y": "independent"}},
  "layer": [
    {
      "data": {"name": "p3"},
      "mark": {"type": "line", "strokeWidth": 1.8},
      "encoding": {
        "x": {"field": "x", "type": "quantitative", "scale": {"domain": [4.6, 4.75], "nice": false, "zero": false},
              "axis": {"orient": "bottom", "values": [4.6, 4.65, 4.7, 4.75], "format": ".2f", "labelPadding": 7, "title": "Wavelength (μm)", "titlePadding": 6, "titleFontSize": 16}},
        "y": {"field": "y", "type": "quantitative", "scale": {"domain": [-0.05, 0.27], "reverse": true, "nice": false, "zero": false},
              "axis": {"orient": "left", "values": [-0.05, 0, 0.05, 0.1, 0.15, 0.2, 0.25], "format": ".2f", "labelPadding": 6, "title": null}},
        "color": {"field": "s", "type": "nominal", "scale": {"domain": ["g", "k", "b", "o"], "range": ["#008000", "#000000", "#0000ff", "#ffa500"]}, "legend": null}
      }
    },
    {
      "data": {"name": "xt3"},
      "mark": {"type": "tick", "orient": "vertical", "thickness": 1.3, "color": "black", "opacity": 1, "clip": true},
      "encoding": {
        "x": {"field": "t", "type": "quantitative", "axis": null},
        "y": {"datum": 0.27, "type": "quantitative", "axis": null},
        "size": {"field": "k", "type": "nominal", "scale": {"domain": ["M", "m"], "range": [14, 7]}, "legend": null}
      }
    },
    {
      "data": {"name": "xt3"},
      "mark": {"type": "tick", "orient": "vertical", "thickness": 1.3, "color": "black", "opacity": 1, "clip": true},
      "encoding": {
        "x": {"field": "t", "type": "quantitative", "axis": null},
        "y": {"datum": -0.05, "type": "quantitative", "axis": null},
        "size": {"field": "k", "type": "nominal", "scale": {"domain": ["M", "m"], "range": [14, 7]}, "legend": null}
      }
    },
    {
      "data": {"name": "yt3"},
      "mark": {"type": "tick", "orient": "horizontal", "thickness": 1.3, "color": "black", "opacity": 1, "clip": true},
      "encoding": {
        "y": {"field": "t", "type": "quantitative", "axis": null},
        "x": {"datum": 4.6, "type": "quantitative", "axis": null},
        "size": {"field": "k", "type": "nominal", "scale": {"domain": ["M", "m"], "range": [14, 7]}, "legend": null}
      }
    },
    {
      "data": {"name": "yt3"},
      "mark": {"type": "tick", "orient": "horizontal", "thickness": 1.3, "color": "black", "opacity": 1, "clip": true},
      "encoding": {
        "y": {"field": "t", "type": "quantitative", "axis": null},
        "x": {"datum": 4.75, "type": "quantitative", "axis": null},
        "size": {"field": "k", "type": "nominal", "scale": {"domain": ["M", "m"], "range": [14, 7]}, "legend": null}
      }
    },
    {
      "data": {"values": [{"x": 4.6946, "y": 0.102, "t": "CO"}]},
      "mark": {"type": "text", "align": "center", "baseline": "middle", "font": "Liberation Sans", "fontWeight": "bold", "fontSize": 19, "color": "black"},
      "encoding": {
        "x": {"field": "x", "type": "quantitative", "axis": null},
        "y": {"field": "y", "type": "quantitative", "axis": null},
        "text": {"field": "t"}
      }
    }
  ]
}
  ]
}
]
}
